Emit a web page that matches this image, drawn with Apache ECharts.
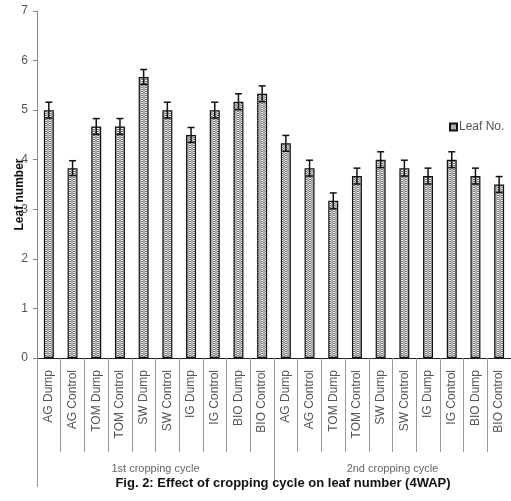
<!DOCTYPE html>
<html><head><meta charset="utf-8">
<script src="https://cdn.jsdelivr.net/npm/echarts@6/dist/echarts.min.js"></script>
<style>html,body{margin:0;padding:0;background:#fff}#c{width:511px;height:501px}</style>
</head><body><div id="c"></div>
<script>
var categories = ['AG Dump','AG Control','TOM Dump','TOM Control','SW Dump','SW Control','IG Dump','IG Control','BIO Dump','BIO Control',
                  'AG Dump','AG Control','TOM Dump','TOM Control','SW Dump','SW Control','IG Dump','IG Control','BIO Dump','BIO Control'];
var groups = ['1st cropping cycle','2nd cropping cycle'];
var leafNo = [5.0,3.83,4.67,4.67,5.67,5.0,4.5,5.0,5.17,5.33, 4.33,3.83,3.17,3.67,4.0,3.83,3.67,4.0,3.67,3.5];
var errors = [0.16,0.15,0.16,0.16,0.15,0.16,0.15,0.16,0.16,0.16, 0.16,0.16,0.16,0.16,0.16,0.16,0.16,0.16,0.16,0.16];
var yTicks = [0,1,2,3,4,5,6,7];

var cv = document.createElement('canvas');
cv.width = 4; cv.height = 4;
var g = cv.getContext('2d');
g.fillStyle = '#f4f4f4'; g.fillRect(0,0,4,4);
g.strokeStyle = '#666'; g.lineWidth = 1;
g.beginPath();
g.moveTo(0,0.5); g.lineTo(2,2); g.lineTo(4,0.5);
g.moveTo(0,2.5); g.lineTo(2,4); g.lineTo(4,2.5);
g.stroke();
var pattern = {image: cv, repeat: 'repeat'};

var chart = echarts.init(document.getElementById('c'), null, {renderer: 'canvas'});
var FONT = 'Liberation Sans, Arial, sans-serif';
chart.setOption({
  animation: false,
  backgroundColor: '#fff',
  grid: {left: 37, right: 0, top: 11, bottom: 143, containLabel: false},
  legend: {
    data: ['Leaf No.'], left: 444, top: 116, itemWidth: 7, itemHeight: 7, itemGap: 2,
    icon: 'rect',
    textStyle: {fontFamily: FONT, fontSize: 12, color: '#555', padding: [0,0,0,-3]}
  },
  title: {
    text: 'Fig. 2: Effect of cropping cycle on leaf number (4WAP)',
    left: 283, textAlign: 'center', top: 477, padding: 0,
    textStyle: {fontFamily: FONT, fontSize: 13, fontWeight: 'bold', color: '#111'}
  },
  xAxis: [{
    type: 'category', data: categories, position: 'bottom',
    axisLine: {lineStyle: {color: '#222', width: 1}},
    axisTick: {show: true, length: 94, interval: 0, lineStyle: {color: '#999'}},
    axisLabel: {rotate: 90, interval: 0, margin: 12, fontFamily: FONT, fontSize: 12, color: '#555'}
  }, {
    type: 'category', data: groups, position: 'bottom',
    axisLine: {show: false},
    axisTick: {show: true, length: 129, lineStyle: {color: '#999'}},
    axisLabel: {margin: 111, fontFamily: FONT, fontSize: 11, color: '#666', verticalAlign: 'middle'}
  }],
  yAxis: {
    type: 'value', min: 0, max: 7, interval: 1,
    name: 'Leaf number', nameLocation: 'middle', nameGap: 11, nameRotate: 90,
    nameMoveOverlap: false,
    nameTextStyle: {fontFamily: FONT, fontSize: 12, fontWeight: 'bold', color: '#111', padding: [0,20,0,0]},
    axisLine: {show: true, lineStyle: {color: '#888'}},
    axisTick: {show: true, length: 4, lineStyle: {color: '#888'}},
    splitLine: {show: false},
    axisLabel: {margin: 9, fontFamily: FONT, fontSize: 12, color: '#555',
      formatter: function(v){ return yTicks.indexOf(v) >= 0 ? String(v) : ''; }}
  },
  series: [{
    name: 'Leaf No.', type: 'bar', data: leafNo, barWidth: '42%',
    itemStyle: {color: pattern, borderColor: '#111', borderWidth: 1.2}
  }, {
    name: 'err', type: 'custom',
    data: leafNo.map(function(v,i){ return [i, v, errors[i]]; }),
    z: 10,
    renderItem: function(params, api){
      var x = api.value(0), v = api.value(1), e = api.value(2);
      var top = api.coord([x, v + e]), bot = api.coord([x, v - e]);
      var hw = 3.5;
      var st = {stroke: '#111', lineWidth: 1.5};
      return {type: 'group', children: [
        {type: 'line', shape: {x1: top[0], y1: top[1], x2: bot[0], y2: bot[1]}, style: st},
        {type: 'line', shape: {x1: top[0]-hw, y1: top[1], x2: top[0]+hw, y2: top[1]}, style: st},
        {type: 'line', shape: {x1: bot[0]-hw, y1: bot[1], x2: bot[0]+hw, y2: bot[1]}, style: st}
      ]};
    }
  }]
});
</script></body></html>
